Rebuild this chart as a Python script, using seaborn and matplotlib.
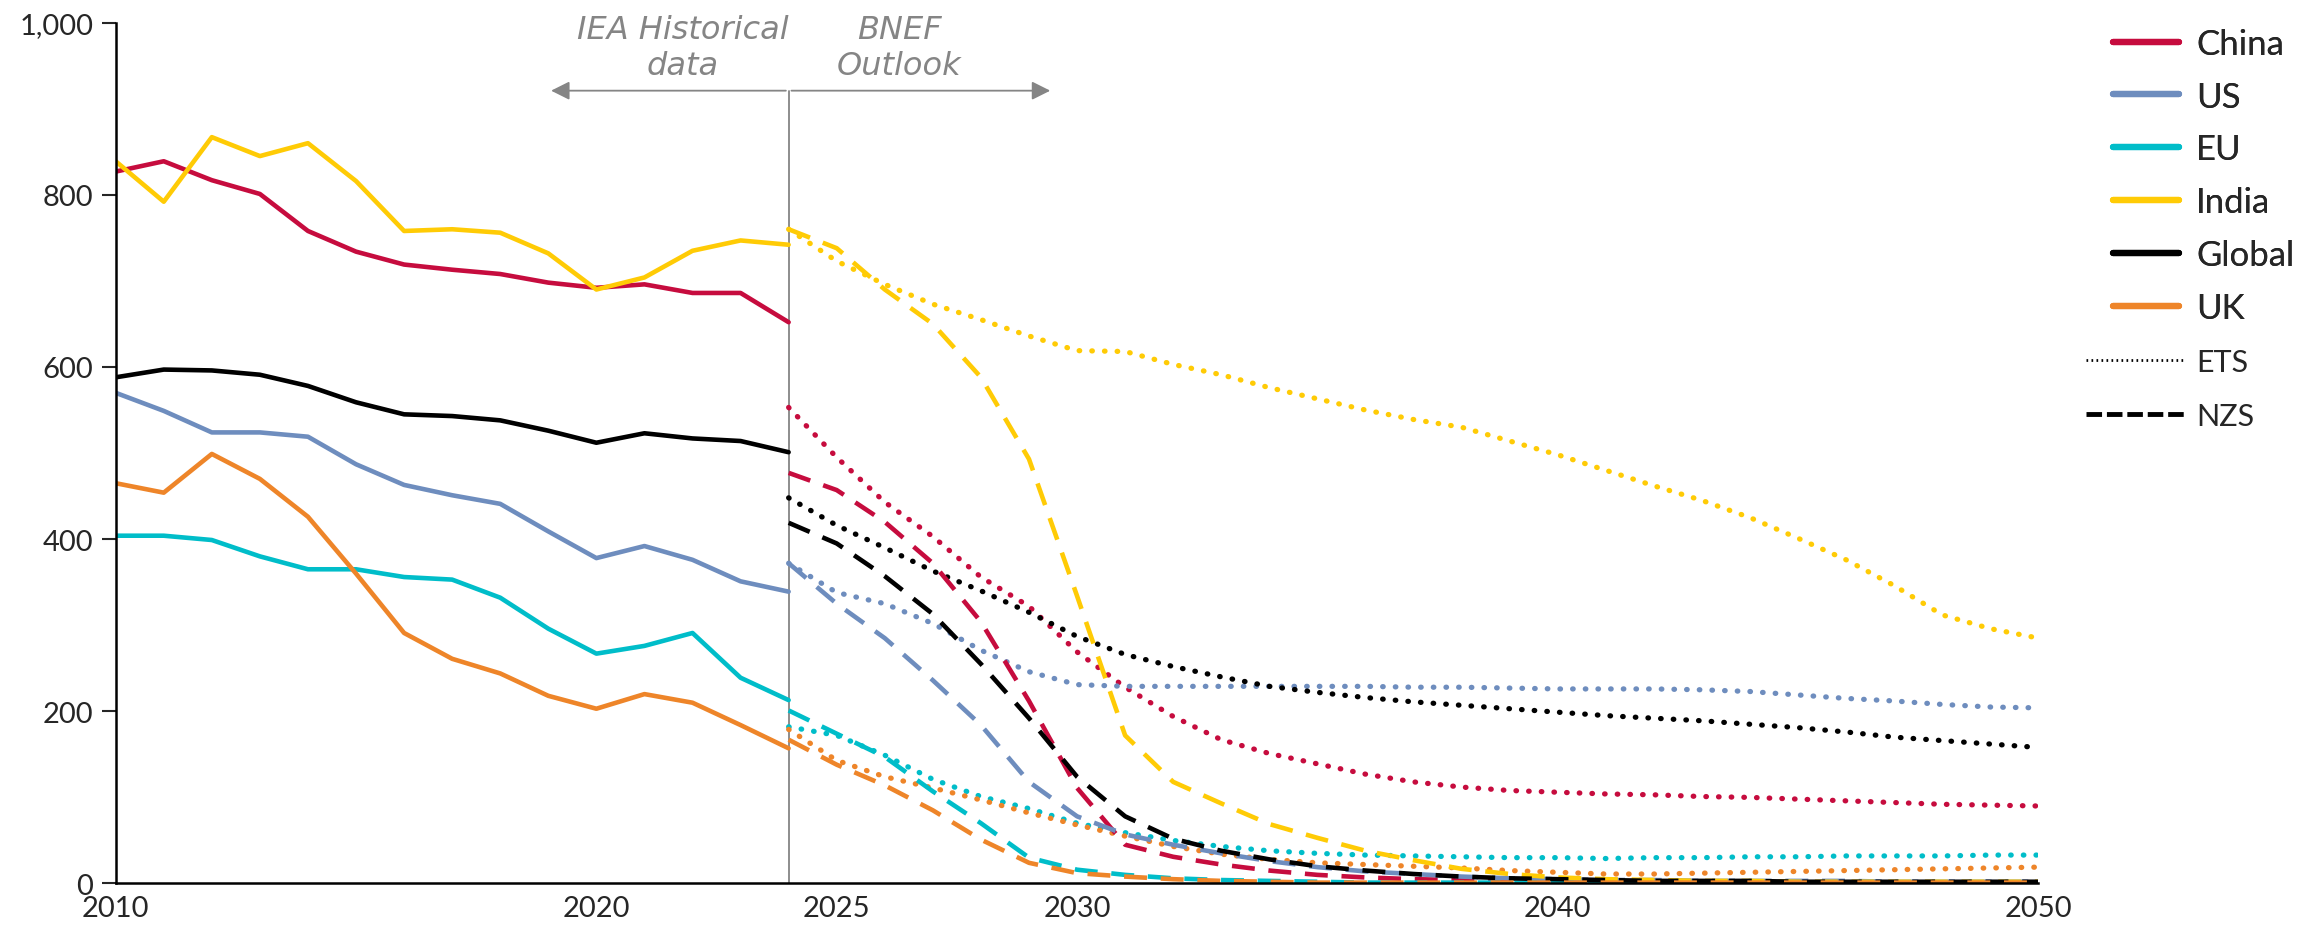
import matplotlib
matplotlib.use("Agg")
import matplotlib.pyplot as plt
from matplotlib.lines import Line2D
from matplotlib.ticker import FuncFormatter
import seaborn as sns

# historical data (IEA), 2010-2024
years_hist = list(range(2010, 2025))
china_hist = [827, 839, 817, 801, 758, 734, 719, 713, 708, 698, 692, 696, 686, 686, 652]
us_hist = [570, 549, 524, 524, 519, 487, 463, 451, 441, 409, 378, 392, 376, 351, 339]
eu_hist = [404, 404, 399, 380, 365, 365, 356, 353, 332, 296, 267, 276, 291, 239, 213]
india_hist = [839, 792, 867, 845, 860, 816, 758, 760, 756, 732, 690, 704, 735, 747, 742]
global_hist = [588, 597, 596, 591, 578, 559, 545, 543, 538, 526, 512, 523, 517, 514, 501]
uk_hist = [465, 454, 499, 470, 426, 360, 291, 261, 244, 218, 203, 220, 210, 184, 157]

# BNEF outlook, 2024-2050
years_proj = list(range(2024, 2051))
china_ets = [553, 495, 443, 403, 356, 322, 269, 228, 194, 167, 151, 139, 127, 118, 112, 108, 106,
             104, 103, 101, 100, 98, 96, 94, 92, 91, 90]
china_nzs = [477, 457, 420, 372, 304, 212, 111, 45, 31, 22, 15, 10, 7, 5, 4, 3, 2,
             1, 1, 1, 1, 1, 1, 1, 1, 1, 1]
us_ets = [372, 338, 325, 302, 271, 246, 231, 229, 229, 229, 229, 229, 229, 228, 228, 227, 226,
          226, 226, 225, 223, 219, 215, 212, 208, 205, 204]
us_nzs = [372, 325, 285, 236, 184, 118, 78, 57, 45, 35, 26, 19, 14, 11, 8, 6, 5,
          4, 4, 3, 3, 3, 3, 2, 2, 2, 2]
eu_ets = [182, 172, 149, 121, 101, 87, 70, 59, 50, 43, 38, 35, 33, 32, 31, 30, 30,
          29, 30, 30, 31, 31, 32, 32, 32, 33, 33]
eu_nzs = [201, 174, 147, 107, 70, 30, 16, 10, 6, 4, 3, 2, 1, 1, 1, 1, 1,
          1, 1, 1, 1, 1, 1, 1, 1, 1, 1]
india_ets = [760, 723, 696, 673, 655, 636, 619, 618, 603, 591, 576, 563, 550, 539, 530, 514, 498,
             480, 462, 445, 425, 401, 376, 346, 312, 296, 285]
india_nzs = [760, 738, 690, 650, 588, 493, 334, 172, 118, 93, 69, 53, 38, 27, 17, 11, 7,
             5, 4, 3, 3, 2, 2, 2, 2, 2, 2]
global_ets = [448, 416, 390, 363, 340, 315, 287, 266, 252, 240, 229, 222, 216, 211, 207, 203, 199,
              195, 192, 189, 185, 181, 176, 170, 166, 162, 158]
global_nzs = [419, 395, 357, 313, 255, 192, 124, 78, 52, 38, 28, 20, 15, 11, 8, 6, 5,
              4, 3, 3, 3, 2, 2, 2, 2, 2, 2]
uk_ets = [179, 143, 124, 111, 97, 82, 68, 55, 43, 34, 28, 24, 22, 20, 18, 15, 13,
          11, 11, 12, 13, 14, 15, 16, 17, 18, 19]
uk_nzs = [167, 138, 114, 85, 51, 24, 12, 8, 5, 3, 2, 1, 1, 1, 1, 1, 1,
          1, 1, 1, 1, 1, 1, 1, 1, 1, 1]

regions = ["China", "US", "EU", "India", "Global", "UK"]
colors = {"China": "#C60C3E", "US": "#6E8DBE", "EU": "#00BDC9",
          "India": "#FFCB05", "Global": "#000000", "UK": "#EE8529"}
hist = {"China": china_hist, "US": us_hist, "EU": eu_hist,
        "India": india_hist, "Global": global_hist, "UK": uk_hist}
ets = {"China": china_ets, "US": us_ets, "EU": eu_ets,
       "India": india_ets, "Global": global_ets, "UK": uk_ets}
nzs = {"China": china_nzs, "US": us_nzs, "EU": eu_nzs,
       "India": india_nzs, "Global": global_nzs, "UK": uk_nzs}

sns.set_style("white")
plt.rcParams["font.family"] = ["Lato", "DejaVu Sans"]

fig = plt.figure(figsize=(23.23, 9.28), dpi=100)
ax = fig.add_axes([0.0498, 0.0469, 0.8277, 0.9276])

lw = 3.3
for r in regions:
    sns.lineplot(x=years_hist, y=hist[r], ax=ax, color=colors[r], lw=lw)
for r in regions:
    sns.lineplot(x=years_proj, y=ets[r], ax=ax, color=colors[r], lw=3.8,
                 linestyle=(0, (0.1, 2.3)), dash_capstyle="round")
for r in regions:
    sns.lineplot(x=years_proj, y=nzs[r], ax=ax, color=colors[r], lw=lw,
                 linestyle=(0, (5, 3)))

ax.set_xlim(2010, 2050)
ax.set_ylim(0, 1000)
ax.set_xticks([2010, 2020, 2025, 2030, 2040, 2050])
ax.set_yticks(range(0, 1001, 200))
ax.yaxis.set_major_formatter(FuncFormatter(lambda v, p: f"{int(v):,}"))
ax.tick_params(axis="y", length=10, width=1.5, direction="out", left=True,
               labelsize=21, pad=6)
ax.tick_params(axis="x", length=0, labelsize=21, pad=8)
for s in ["top", "right"]:
    ax.spines[s].set_visible(False)
for s in ["left", "bottom"]:
    ax.spines[s].set_color("black")
    ax.spines[s].set_linewidth(1.8)
ax.set_xlabel("")
ax.set_ylabel("")

# historical / outlook divider
grey = "#858585"
ax.plot([2024, 2024], [0, 921], color=grey, lw=1.3, clip_on=False, zorder=1)
ax.annotate("", xy=(2019.0, 921), xytext=(2024, 921),
            arrowprops=dict(arrowstyle="-|>", color=grey, lw=1.3, mutation_scale=28),
            annotation_clip=False)
ax.annotate("", xy=(2029.5, 921), xytext=(2024, 921),
            arrowprops=dict(arrowstyle="-|>", color=grey, lw=1.3, mutation_scale=28),
            annotation_clip=False)
ax.text(2021.8, 971, "IEA Historical\ndata", ha="center", va="center", fontsize=23,
        style="italic", color=grey, linespacing=1.2, clip_on=False,
        family=["DejaVu Sans"])
ax.text(2026.3, 971, "BNEF\nOutlook", ha="center", va="center", fontsize=23,
        style="italic", color=grey, linespacing=1.2, clip_on=False,
        family=["DejaVu Sans"])

# legends
handles = [Line2D([0], [0], color=colors[r], lw=4.5, solid_capstyle="round") for r in regions]
leg1 = fig.legend(handles, regions, loc="upper left", bbox_to_anchor=(0.9095, 0.969),
                  frameon=False, fontsize=25, handlelength=1.9, handletextpad=0.5,
                  labelspacing=0.6, borderpad=0, borderaxespad=0)
fig.add_artist(leg1)
style_handles = [Line2D([0], [0], color="black", lw=2, linestyle=(0, (0.6, 1.2))),
                 Line2D([0], [0], color="black", lw=3.5, linestyle=(0, (3.2, 1.0)))]
fig.legend(style_handles, ["ETS", "NZS"], loc="upper left", bbox_to_anchor=(0.898, 0.624),
           frameon=False, fontsize=22, handlelength=3.2, handletextpad=0.4,
           labelspacing=0.85, borderpad=0, borderaxespad=0)

fig.savefig("out.png", dpi=100)
